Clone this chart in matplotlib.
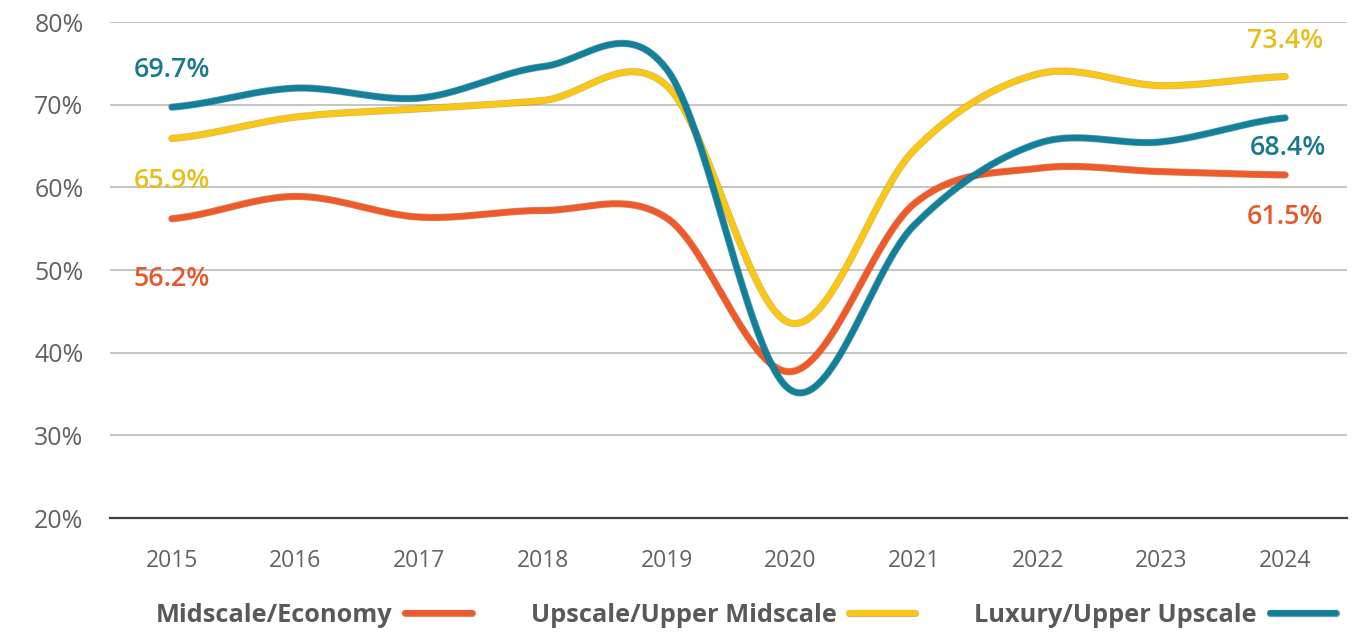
import numpy as np
import matplotlib
matplotlib.use("Agg")
import matplotlib.pyplot as plt
import matplotlib.patheffects as pe
from matplotlib.ticker import FuncFormatter

years = ["2015", "2016", "2017", "2018", "2019", "2020", "2021", "2022", "2023", "2024"]
midscale = [56.2, 58.9, 56.4, 57.2, 56.3, 37.7, 58.0, 62.3, 61.9, 61.5]
upscale = [65.9, 68.5, 69.5, 70.5, 72.3, 43.6, 64.5, 73.7, 72.3, 73.4]
luxury = [69.7, 72.0, 70.8, 74.6, 74.3, 35.5, 55.4, 65.3, 65.5, 68.4]

series_names = ["Midscale/Economy", "Upscale/Upper Midscale", "Luxury/Upper Upscale"]
line_colors = ["#F05A28", "#FAC814", "#11809A"]
edge_colors = ["#A8401C", "#B08C10", "#0B5A6C"]
label_colors = ["#E4582E", "#E6BE1E", "#17798C"]

plt.rcParams['font.family'] = ['Open Sans', 'DejaVu Sans']


def smooth(y, n=60):
    """Catmull-Rom style smoothing (like spreadsheet smoothed lines)."""
    y = np.asarray(y, float)
    x = np.arange(len(y), dtype=float)
    P = np.concatenate([[y[0]], y, [y[-1]]])
    xs, ys = [], []
    for i in range(len(y) - 1):
        p0, p1, p2, p3 = P[i], P[i + 1], P[i + 2], P[i + 3]
        c1 = p1 + (p2 - p0) / 6.0
        c2 = p2 - (p3 - p1) / 6.0
        t = np.linspace(0, 1, n, endpoint=(i == len(y) - 2))
        b = ((1 - t) ** 3) * p1 + 3 * ((1 - t) ** 2) * t * c1 + 3 * (1 - t) * t ** 2 * c2 + t ** 3 * p2
        xs.append(x[i] + t)
        ys.append(b)
    return np.concatenate(xs), np.concatenate(ys)


fig = plt.figure(figsize=(13.59, 6.32), dpi=100)
ax = fig.add_axes([110 / 1359, 1 - 518 / 632, (1347 - 110) / 1359, (518 - 22) / 632])

ax.set_xlim(-0.5, len(years) - 0.5)
ax.set_ylim(20, 80)
ax.set_yticks([20, 30, 40, 50, 60, 70, 80])
ax.yaxis.set_major_formatter(FuncFormatter(lambda v, p: f"{v:.0f}%"))
ax.set_xticks(range(len(years)))
ax.set_xticklabels(years)
ax.grid(axis='y', color='#BFBFBF', linewidth=1.3)
ax.set_axisbelow(True)
for s in ['top', 'right', 'left']:
    ax.spines[s].set_visible(False)
ax.spines['bottom'].set_color('#404040')
ax.spines['bottom'].set_linewidth(1.6)
ax.tick_params(axis='both', length=0, labelcolor='#626262')
ax.tick_params(axis='x', pad=22, labelsize=16.5)
ax.tick_params(axis='y', pad=19, labelsize=18)

handles = []
for vals, name, c, ec in zip([midscale, upscale, luxury], series_names, line_colors, edge_colors):
    xs, ys = smooth(vals)
    ln, = ax.plot(xs, ys, color=c, linewidth=4.2, solid_capstyle='round', label=name,
                  path_effects=[pe.Stroke(linewidth=5.2, foreground=ec, alpha=0.6), pe.Normal()])
    handles.append(ln)

# data labels
lab = [
    (midscale, 0, (0, -60), 0), (midscale, 9, (0, -42), 0),
    (upscale, 0, (0, -42), 1), (upscale, 9, (0, 36), 1),
    (luxury, 0, (0, 37), 2), (luxury, 9, (3, -30), 2),
]
for vals, i, off, ci in lab:
    ax.annotate(f"{vals[i]:.1f}%", (i, vals[i]), xytext=off, textcoords='offset pixels',
                ha='center', va='center', fontsize=19.3, fontweight='semibold',
                color=label_colors[ci], annotation_clip=False)

leg = fig.legend(handles=handles, loc='center', bbox_to_anchor=(746 / 1359, 1 - 615 / 632), ncol=3,
                 frameon=False, markerfirst=False, handlelength=2.6, handletextpad=0.51,
                 columnspacing=2.32, borderpad=0, borderaxespad=0,
                 prop={'size': 18.3, 'weight': 'bold'})
for t in leg.get_texts():
    t.set_color('#595959')

fig.savefig("out.png", dpi=100)
